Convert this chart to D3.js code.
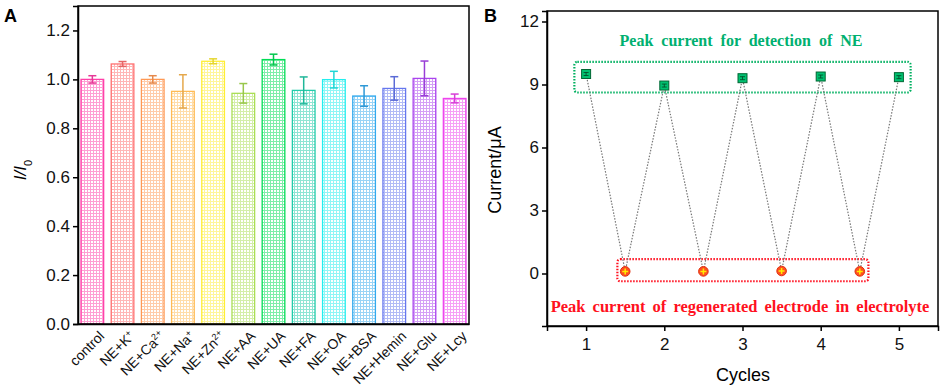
<!DOCTYPE html>
<html>
<head>
<meta charset="utf-8">
<script src="https://cdn.jsdelivr.net/npm/d3@7"></script>
<style>
  body { margin: 0; background: #fff; }
  text { font-family: Arial, "Liberation Sans", sans-serif; }
</style>
</head>
<body>
<div class="chart"></div>
<script>
// panel A data
var groups = ['control', 'NE+K', 'NE+Ca', 'NE+Na', 'NE+Zn', 'NE+AA', 'NE+UA', 'NE+FA', 'NE+OA', 'NE+BSA', 'NE+Hemin', 'NE+Glu', 'NE+Lcy'];
var groupSup = ['', '+', '2+', '+', '2+', '', '', '', '', '', '', '', ''];
var ratio = [1.00, 1.063, 1.00, 0.951, 1.074, 0.943, 1.081, 0.955, 0.999, 0.932, 0.963, 1.004, 0.922];
var ratioErr = [0.015, 0.010, 0.015, 0.068, 0.010, 0.040, 0.022, 0.055, 0.034, 0.042, 0.048, 0.071, 0.018];
var barColors = ['#ff3fa8', '#ff7070', '#ff9955', '#ffbb55', '#ffee33', '#aade55', '#00dd55', '#22ccaa', '#22eeee', '#33aaee', '#6677ee', '#aa44ee', '#ee44ee'];
var yTicksA = [0, 0.2, 0.4, 0.6, 0.8, 1.0, 1.2];

// panel B data
var cycles = [1, 1.5, 2, 2.5, 3, 3.5, 4, 4.5, 5];
var current = [9.5, 0.1, 8.95, 0.1, 9.3, 0.12, 9.38, 0.1, 9.35];
var peakKind = ['ne', 'bg', 'ne', 'bg', 'ne', 'bg', 'ne', 'bg', 'ne'];
var xTicksB = [1, 2, 3, 4, 5];
var yTicksB = [0, 3, 6, 9, 12];
var greenBox = {x0: 0.85, x1: 5.15, y0: 8.62, y1: 10.08};
var redBox = {x0: 1.4, x1: 4.61, y0: -0.37, y1: 0.68};

var W = 941, H = 388;
var svg = d3.select('.chart').append('svg').attr('width', W).attr('height', H);
var defs = svg.append('defs');

// grid hatch per bar
barColors.forEach(function (c, i) {
    var p = defs.append('pattern').attr('id', 'grid' + i)
        .attr('patternUnits', 'userSpaceOnUse').attr('width', 3).attr('height', 3);
    p.append('rect').attr('width', 3).attr('height', 3).attr('fill', '#fff');
    p.append('path').attr('d', 'M0,0.5 H3 M0.5,0 V3').attr('stroke', c).attr('stroke-width', 1).attr('opacity', 0.5);
});

// ---------- panel A ----------
var ax = d3.scaleBand().domain(groups).range([78, 469]).paddingInner(0.25).paddingOuter(0.1);
var ay = d3.scaleLinear().domain([0, 1.3]).range([324, 6]);

var gA = svg.append('g');
gA.selectAll('.bar').data(groups).enter().append('rect')
    .attr('x', function (d) { return ax(d); })
    .attr('y', function (d, i) { return ay(ratio[i]); })
    .attr('width', ax.bandwidth())
    .attr('height', function (d, i) { return ay(0) - ay(ratio[i]); })
    .attr('fill', function (d, i) { return 'url(#grid' + i + ')'; })
    .attr('stroke', function (d, i) { return barColors[i]; })
    .attr('stroke-width', 1.3);

// error bars
var eb = gA.selectAll('.err').data(groups).enter().append('g')
    .attr('stroke', function (d, i) { return d3.color(barColors[i]).darker(0.3); })
    .attr('stroke-width', 1.5);
eb.append('line')
    .attr('x1', function (d) { return ax(d) + ax.bandwidth() / 2; })
    .attr('x2', function (d) { return ax(d) + ax.bandwidth() / 2; })
    .attr('y1', function (d, i) { return ay(ratio[i] - ratioErr[i]); })
    .attr('y2', function (d, i) { return ay(ratio[i] + ratioErr[i]); });
[-1, 1].forEach(function (s) {
    eb.append('line')
        .attr('x1', function (d) { return ax(d) + ax.bandwidth() / 2 - 4; })
        .attr('x2', function (d) { return ax(d) + ax.bandwidth() / 2 + 4; })
        .attr('y1', function (d, i) { return ay(ratio[i] + s * ratioErr[i]); })
        .attr('y2', function (d, i) { return ay(ratio[i] + s * ratioErr[i]); });
});

// frame
gA.append('rect').attr('x', 78).attr('y', 6).attr('width', 391).attr('height', 318)
    .attr('fill', 'none').attr('stroke', '#000').attr('stroke-width', 1.5);

var yAxisA = gA.append('g').attr('transform', 'translate(78,0)')
    .call(d3.axisLeft(ay).tickValues(yTicksA).tickFormat(d3.format('.1f')).tickSize(5));
yAxisA.select('.domain').attr('stroke-width', 1.5);
yAxisA.selectAll('line').attr('stroke-width', 1.5);
yAxisA.selectAll('text').style('font-size', '17px').attr('fill', '#111');

var xAxisA = gA.append('g').attr('transform', 'translate(0,324)')
    .call(d3.axisBottom(ax).tickSize(0).tickFormat(''));
xAxisA.select('.domain').attr('stroke-width', 1.5);
gA.selectAll('.xlab').data(groups).enter().append('text')
    .attr('transform', function (d) { return 'translate(' + (ax(d) + ax.bandwidth() / 2 + 6) + ',330) rotate(-45)'; })
    .attr('text-anchor', 'end')
    .attr('dy', '0.7em')
    .style('font-size', '14px')
    .attr('fill', '#111')
    .each(function (d, i) {
        var t = d3.select(this);
        t.append('tspan').text(d);
        if (groupSup[i]) t.append('tspan').attr('baseline-shift', 'super').style('font-size', '9px').text(groupSup[i]);
    });

gA.append('text').attr('transform', 'translate(26,170) rotate(-90)')
    .attr('text-anchor', 'middle').style('font-size', '17px').style('font-style', 'italic')
    .each(function () {
        var t = d3.select(this);
        t.append('tspan').text('I/I');
        t.append('tspan').attr('baseline-shift', 'sub').style('font-size', '11px').style('font-style', 'normal').text('0');
    });
svg.append('text').attr('x', 4).attr('y', 22).text('A').style('font-size', '18px').style('font-weight', 'bold');

// ---------- panel B ----------
var bx = d3.scaleLinear().domain([0.5, 5.5]).range([547, 938]);
var by = d3.scaleLinear().domain([-2.5, 12.5]).range([326, 11]);
var gB = svg.append('g');

gB.append('rect').attr('x', 547).attr('y', 11).attr('width', 391).attr('height', 315)
    .attr('fill', 'none').attr('stroke', '#000').attr('stroke-width', 1.5);

var yAxisB = gB.append('g').attr('transform', 'translate(547,0)')
    .call(d3.axisLeft(by).tickValues(yTicksB).tickFormat(d3.format('d')).tickSize(5));
yAxisB.select('.domain').attr('stroke-width', 1.5);
yAxisB.selectAll('line').attr('stroke-width', 1.5);
yAxisB.selectAll('text').style('font-size', '17px').attr('fill', '#111');
var xAxisB = gB.append('g').attr('transform', 'translate(0,326)')
    .call(d3.axisBottom(bx).tickValues(xTicksB).tickFormat(d3.format('d')).tickSize(5));
xAxisB.select('.domain').attr('stroke-width', 1.5);
xAxisB.selectAll('line').attr('stroke-width', 1.5);
xAxisB.selectAll('text').style('font-size', '17px').attr('fill', '#111').attr('dy', '0.95em');

// boxes
[[greenBox, '#00b060'], [redBox, '#ff1020']].forEach(function (b) {
    gB.append('rect')
        .attr('x', bx(b[0].x0)).attr('y', by(b[0].y1))
        .attr('width', bx(b[0].x1) - bx(b[0].x0)).attr('height', by(b[0].y0) - by(b[0].y1))
        .attr('rx', 3)
        .attr('fill', 'none').attr('stroke', b[1]).attr('stroke-width', 2.2).attr('stroke-dasharray', '1.5,1.5');
});

// dotted connecting line
var line = d3.line().x(function (d, i) { return bx(cycles[i]); }).y(function (d) { return by(d); });
gB.append('path').datum(current).attr('d', line)
    .attr('fill', 'none').attr('stroke', '#777').attr('stroke-width', 1.2).attr('stroke-dasharray', '1.5,1.5');

// markers
var pts = gB.selectAll('.pt').data(current).enter().append('g')
    .attr('transform', function (d, i) { return 'translate(' + bx(cycles[i]) + ',' + by(d) + ')'; });
pts.filter(function (d, i) { return peakKind[i] === 'ne'; }).each(function () {
    var g = d3.select(this);
    g.append('rect').attr('x', -4.5).attr('y', -4.5).attr('width', 9).attr('height', 9)
        .attr('fill', '#00c070').attr('stroke', '#006633').attr('stroke-width', 1);
    g.append('path').attr('d', 'M-2.5,-1.5 H2.5 M-2.5,1.5 H2.5 M0,-1.5 V1.5').attr('stroke', '#004422').attr('stroke-width', 0.8);
});
pts.filter(function (d, i) { return peakKind[i] === 'bg'; }).each(function () {
    var g = d3.select(this);
    g.append('circle').attr('r', 4.8).attr('fill', '#ff5020').attr('stroke', '#e03010').attr('stroke-width', 1);
    g.append('path').attr('d', 'M-3,0 H3 M0,-3 V3').attr('stroke', '#ffee00').attr('stroke-width', 1.5);
});

gB.append('text').attr('x', 741).attr('y', 46).attr('text-anchor', 'middle')
    .style('font-family', '"Liberation Serif", "Times New Roman", serif').style('font-weight', 'bold')
    .style('font-size', '16px').attr('fill', '#00b070').attr('word-spacing', '4px')
    .text('Peak current for detection of NE');
gB.append('text').attr('x', 740).attr('y', 312).attr('text-anchor', 'middle')
    .style('font-family', '"Liberation Serif", "Times New Roman", serif').style('font-weight', 'bold')
    .style('font-size', '16.5px').attr('fill', '#ff1020').attr('word-spacing', '3px')
    .text('Peak current of regenerated electrode in electrolyte');

gB.append('text').attr('transform', 'translate(501,170) rotate(-90)')
    .attr('text-anchor', 'middle').style('font-size', '18px').text('Current/\u03bcA');
gB.append('text').attr('x', 743).attr('y', 381).attr('text-anchor', 'middle')
    .style('font-size', '18px').text('Cycles');
svg.append('text').attr('x', 484).attr('y', 22).text('B').style('font-size', '18px').style('font-weight', 'bold');
</script>
</body>
</html>
